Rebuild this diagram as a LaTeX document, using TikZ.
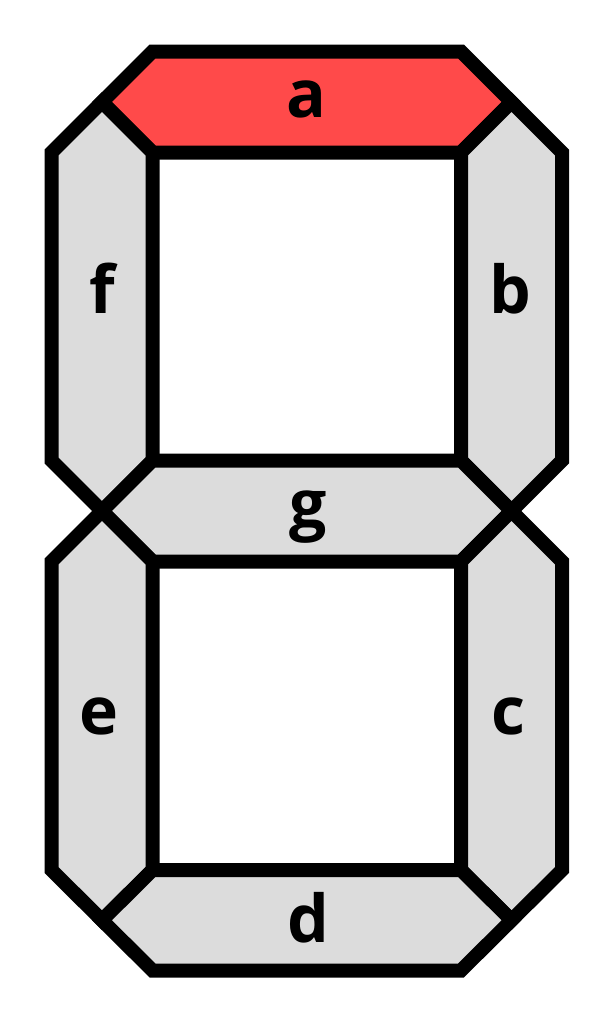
\documentclass[tikz,border=0pt]{standalone}
\usepackage{fontspec}
\setmainfont{Noto Sans}
\newfontfamily\lblfont{Open Sans}
\definecolor{segon}{HTML}{FF4A4A}
\definecolor{segoff}{HTML}{DCDCDC}
\tikzset{
  seg/.style={draw=black, line width=14pt, line join=miter, fill=segoff},
  segred/.style={seg, fill=segon},
  lbl/.style={anchor=base, inner sep=0pt, font=\lblfont\bfseries\fontsize{66}{66}\selectfont}
}
\begin{document}
\begin{tikzpicture}[x=1pt,y=-1pt]
\useasboundingbox (0,0) rectangle (614,1023);
% a
\draw[segred] (152.5,51.5) -- (461,51.5) -- (511.5,102) -- (461,152.5) -- (152.5,152.5) -- (102,102) -- cycle;
% f
\draw[seg] (102,102) -- (152.5,152.5) -- (152.5,460.5) -- (102,511) -- (51.5,460.5) -- (51.5,152.5) -- cycle;
% b
\draw[seg] (511.5,102) -- (562,152.5) -- (562,460.5) -- (511.5,511) -- (461,460.5) -- (461,152.5) -- cycle;
% g
\draw[seg] (152.5,460.5) -- (461,460.5) -- (511.5,511) -- (461,561.5) -- (152.5,561.5) -- (102,511) -- cycle;
% e
\draw[seg] (102,511) -- (152.5,561.5) -- (152.5,870) -- (102,920.25) -- (51.5,870) -- (51.5,561.5) -- cycle;
% c
\draw[seg] (511.5,511) -- (562,561.5) -- (562,870) -- (511.5,920.25) -- (461,870) -- (461,561.5) -- cycle;
% d
\draw[seg] (152.5,870) -- (461,870) -- (511.5,920.25) -- (461,970.5) -- (152.5,970.5) -- (102,920.25) -- cycle;
% labels
\node[lbl] (la) at (306,117) {a};
\node[lbl] (lf) at (102,313.5) {f};
\node[lbl] (lb) at (510,313.5) {b};
\node[lbl] (lg) at (308,527) {g};
\node[lbl] (le) at (99,734) {e};
\node[lbl] (lc) at (508,734) {c};
\node[lbl] (ld) at (308,942) {d};
\end{tikzpicture}
\end{document}
